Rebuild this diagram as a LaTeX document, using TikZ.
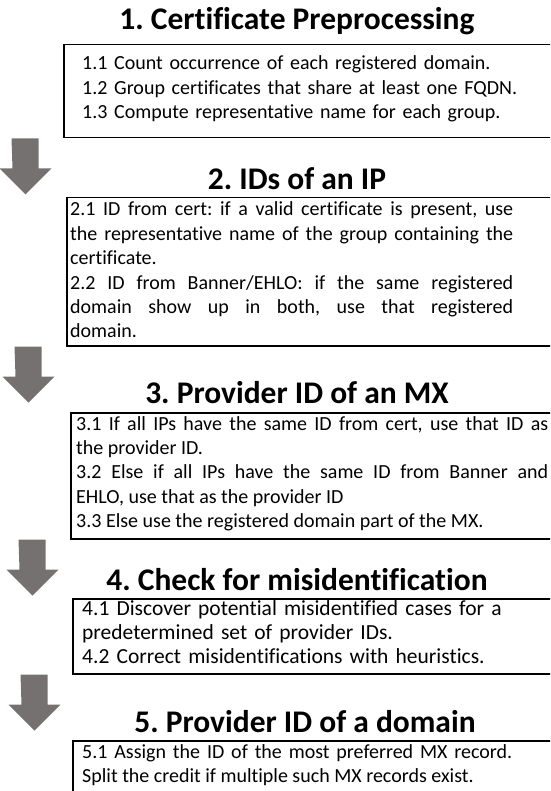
\documentclass[tikz,border=0pt]{standalone}
\usepackage{fontspec}
\setmainfont{Carlito}[Ligatures=NoCommon]
\usetikzlibrary{positioning}
\definecolor{arrowgray}{RGB}{118,113,113}
\tikzset{steptitle/.style={font=\fontsize{31.5}{38}\selectfont\bfseries,
        anchor=base, inner sep=0pt},
    stepbox/.style={draw, line width=1.5pt, anchor=north west,
        inner sep=0pt, minimum width=520pt},
    steptext/.style={font=\fontsize{20}{24.4}\selectfont,
        anchor=base west, inner sep=0pt, align=justify},
    }
\frenchspacing

\begin{document}
\begin{tikzpicture}[x=1pt,y=-1pt]
	\clip (0,0) rectangle (550,791);
	% step 1
	\node[steptitle] (title1) at (297,30) {1. Certificate Preprocessing};
	\node[stepbox, minimum height=93pt] (box1) at (63,44) {};
	\node[steptext, text width=440pt, align=left] (text1) at (82,70)
		{1.1 Count occurrence of each registered domain.\\
		1.2 Group certificates that share at least one FQDN.\\
		1.3 Compute representative name for each group.};
	% step 2
	\node[steptitle] (title2) at (297,190) {2. IDs of an IP};
	\node[stepbox, minimum height=148pt] (box2) at (66,197) {};
	\node[steptext, text width=443pt] (text2) at (70,216)
		{2.1 ID from cert: if a valid certificate is present, use\linebreak
		the representative name of the group containing the\linebreak
		certificate.\par
		2.2 ID from Banner/EHLO: if the same registered\linebreak
		domain show up in both, use that registered\linebreak
		domain.};
	% step 3
	\node[steptitle] (title3) at (297,403) {3. Provider ID of an MX};
	\node[stepbox, minimum height=126pt] (box3) at (70,412) {};
	\node[steptext, text width=472pt] (text3) at (76,430)
		{3.1 If all IPs have the same ID from cert, use that ID as\linebreak
		the provider ID.\par
		3.2 Else if all IPs have the same ID from Banner and\linebreak
		EHLO, use that as the provider ID\par
		3.3 Else use the registered domain part of the MX.};
	% step 4
	\node[steptitle] (title4) at (297,590) {4. Check for misidentification};
	\node[stepbox, minimum height=75pt] (box4) at (72,598) {};
	\node[steptext, text width=460pt, align=left,
		font=\fontsize{21.5}{24.4}\selectfont] (text4) at (82,615)
		{4.1 Discover potential misidentified cases for a\\
		predetermined set of provider IDs.\\
		4.2 Correct misidentifications with heuristics.};
	% step 5
	\node[steptitle] (title5) at (305,732) {5. Provider ID of a domain};
	\node[stepbox, minimum height=80pt] (box5) at (72,740) {};
	\node[steptext, text width=430pt] (text5) at (82,758)
		{5.1 Assign the ID of the most preferred MX record.\linebreak
		Split the credit if multiple such MX records exist.};
	% block arrows between the steps
	\foreach \b in {box1,box2,box3,box4}
		\fill[arrowgray] (\b.south west) ++(-38,0) coordinate (top)
			(top) ++(-13.5,0) -- ++(27,0) -- ++(0,30) -- ++(13,0)
			-- ++(-26,26) -- ++(-26,-26) -- ++(13,0) -- cycle;
\end{tikzpicture}
\end{document}
